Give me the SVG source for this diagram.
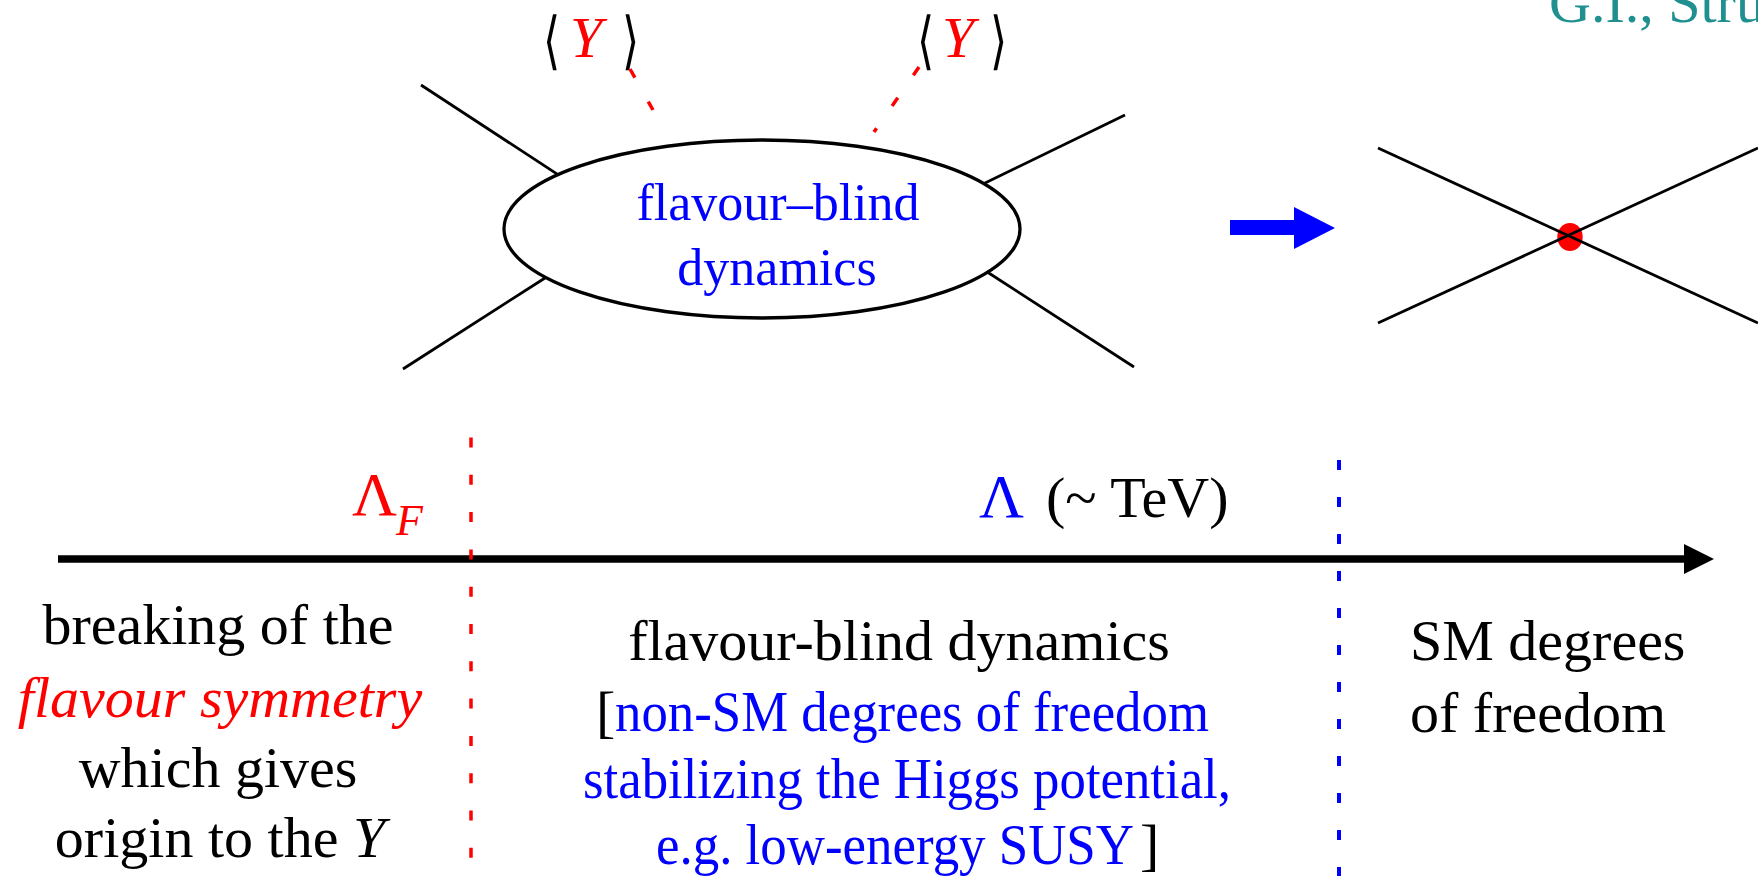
<svg xmlns="http://www.w3.org/2000/svg" width="1758" height="876" viewBox="0 0 1758 876">
<style>
text{font-family:"Liberation Serif","Times New Roman",serif;}
.t{font-size:58px;fill:#000;}
.b{fill:#0000ff;}
.r{fill:#ff0000;}
.it{font-style:italic;}
.br{font-family:"DejaVu Sans",sans-serif;font-weight:200;font-size:63px;fill:#000;}
.leg{stroke:#000;stroke-width:2.8;fill:none;}
.rdash{stroke:#ff0000;stroke-width:3.5;stroke-dasharray:10 27.3;fill:none;}
.bdash{stroke:#0000ff;stroke-width:4;stroke-dasharray:10 27;fill:none;}
</style>
<rect width="1758" height="876" fill="#fff"/>

<g id="citation">
<text x="1549" y="22" style="font-size:58px;fill:#1f8f8f;">G.I., Stru</text>
</g>

<g id="blob">
<ellipse cx="762" cy="229" rx="258" ry="89" fill="#fff" stroke="#000" stroke-width="3.3"/>
<text x="778" y="220" text-anchor="middle" class="b" style="font-size:52px;">flavour–blind</text>
<text x="777" y="285" text-anchor="middle" class="b" style="font-size:52px;">dynamics</text>
</g>

<g id="vevLeft">
<text x="543" y="62" class="br" transform="translate(543 0) scale(0.7 1) translate(-543 0)">⟨</text>
<text x="570" y="57" class="t r it">Y</text>
<text x="622" y="62" class="br" transform="translate(622 0) scale(0.7 1) translate(-622 0)">⟩</text>
</g>

<g id="vevRight">
<text x="917" y="62" class="br" transform="translate(917 0) scale(0.7 1) translate(-917 0)">⟨</text>
<text x="942" y="57" class="t r it">Y</text>
<text x="990" y="62" class="br" transform="translate(990 0) scale(0.7 1) translate(-990 0)">⟩</text>
</g>

<g id="contact">
<ellipse cx="1570" cy="237" rx="12.7" ry="14" fill="#ff0000"/>
</g>

<g id="connectors">
<line class="leg" x1="421" y1="85" x2="558" y2="174.6"/>
<line class="leg" x1="403" y1="369" x2="545" y2="278"/>
<line class="leg" x1="1125" y1="115" x2="983" y2="184"/>
<line class="leg" x1="1134" y1="367" x2="988" y2="272.5"/>
<line class="rdash" x1="630" y1="69" x2="653" y2="110"/>
<line class="rdash" x1="919" y1="67" x2="874" y2="132"/>
<line class="leg" x1="1378" y1="148" x2="1758" y2="323"/>
<line class="leg" x1="1378" y1="323" x2="1758" y2="148"/>
<rect x="1230" y="220" width="65" height="15" fill="#0000ff"/>
<polygon points="1294,207 1335,228 1294,249" fill="#0000ff"/>
<line x1="58" y1="559" x2="1686" y2="559" stroke="#000" stroke-width="7.4"/>
<polygon points="1684,544 1714,559 1684,574" fill="#000"/>
<line class="rdash" x1="471" y1="437.5" x2="471" y2="876"/>
<line class="bdash" x1="1339" y1="460" x2="1339" y2="876"/>
</g>

<g id="scaleLabels">
<text x="352" y="515" class="r" style="font-size:62px;">Λ</text>
<text x="396" y="535" class="r it" style="font-size:44px;">F</text>
<text x="979" y="517" class="b" style="font-size:62px;">Λ</text>
<text x="1046" y="517" class="t">(~ TeV)</text>
</g>

<g id="leftText">
<text x="218" y="644" text-anchor="middle" class="t">breaking of the</text>
<text x="220" y="717" text-anchor="middle" class="t r it">flavour symmetry</text>
<text x="218" y="787" text-anchor="middle" class="t">which gives</text>
<text x="220" y="857" text-anchor="middle" class="t">origin to the <tspan class="it">Y</tspan></text>
</g>

<g id="middleText">
<text x="899" y="660" text-anchor="middle" class="t">flavour-blind dynamics</text>
<text x="596" y="731" class="t">[</text>
<text x="615" y="731" class="t b" textLength="594" lengthAdjust="spacingAndGlyphs">non-SM degrees of freedom</text>
<text x="583" y="798" class="t b" textLength="648" lengthAdjust="spacingAndGlyphs">stabilizing the Higgs potential,</text>
<text x="656" y="864" class="t b" textLength="478" lengthAdjust="spacingAndGlyphs">e.g. low-energy SUSY</text>
<text x="1140" y="864" class="t">]</text>
</g>

<g id="rightText">
<text x="1410" y="660" class="t">SM degrees</text>
<text x="1410" y="732" class="t">of freedom</text>
</g>
</svg>
